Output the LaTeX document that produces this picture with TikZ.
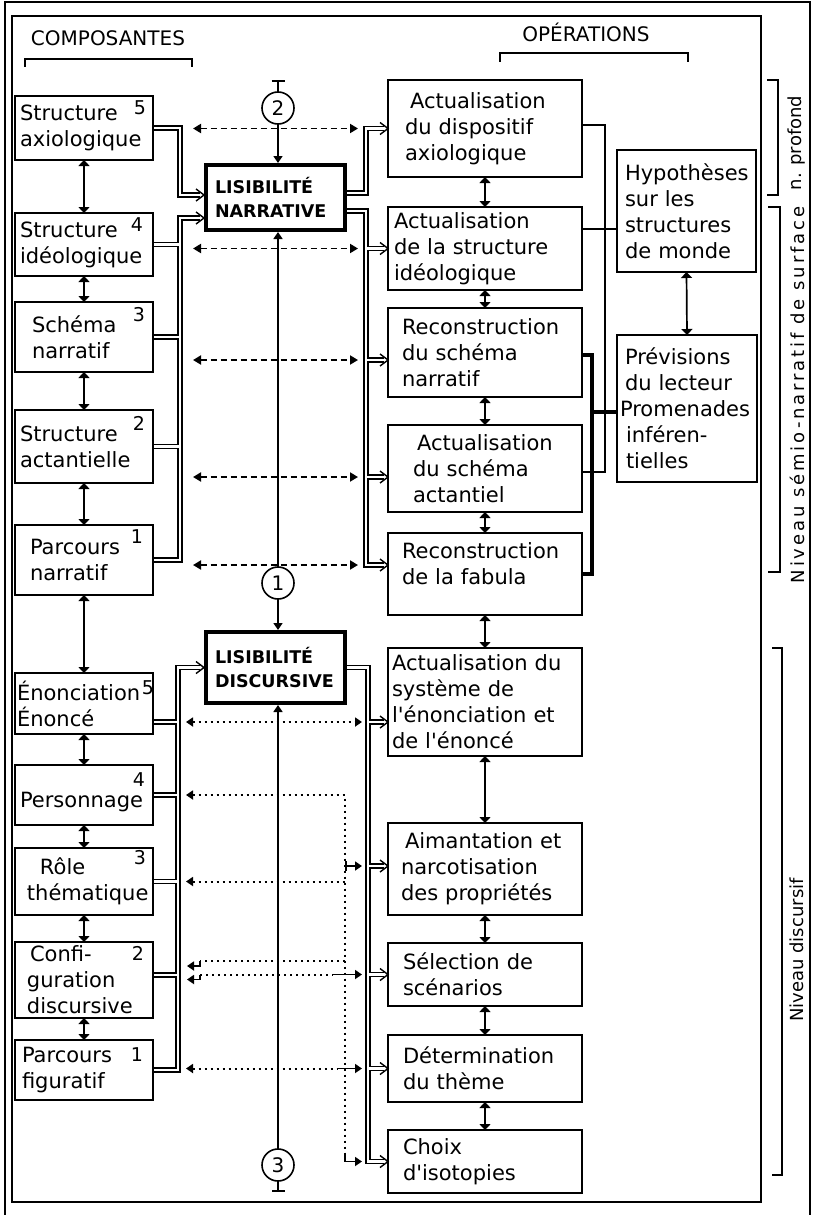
\documentclass[tikz,border=0pt]{standalone}
\usepackage{fontspec}
\setmainfont{DejaVu Sans}
\usetikzlibrary{arrows.meta}
\pgfdeclarelayer{back}
\pgfsetlayers{back,main}
\hyphenpenalty=10000
\exhyphenpenalty=10000
\newcommand\mybox[8]{%
  \pgfmathsetmacro\mbw{#4-#2-2*#6}%
  \pgfmathsetmacro\mbh{#5-#3}%
  \node[#7, anchor=north west, inner xsep=#6pt, inner ysep=0pt, text width=\mbw pt, minimum height=\mbh pt] (#1) at (#2,#3) {#8};}
\newcommand\chev[1]{\draw[chevl] ([xshift=-8pt,yshift=6pt]#1) -- (#1) -- ([xshift=-8pt,yshift=-6pt]#1);}
\begin{document}
\begin{tikzpicture}[x=1pt,y=-1pt,
  >={Triangle[length=7pt,width=9pt]},
  box/.style={draw, line width=1.7pt, outer sep=0pt, align=left, font=\fontsize{21}{26}\selectfont},
  lbox/.style={draw, line width=4pt, outer sep=0pt, align=left, font=\bfseries\fontsize{17.5}{24}\selectfont},
  num/.style={inner sep=0pt, font=\fontsize{19}{19}\selectfont},
  circ/.style={draw, circle, line width=1.6pt, minimum size=32pt, inner sep=0pt, outer sep=0pt, font=\fontsize{20}{20}\selectfont},
  vv/.style={line width=1.7pt, {Triangle[length=6pt,width=11pt]}-{Triangle[length=6pt,width=11pt]}},
  thinl/.style={line width=1.4pt},
  heavy/.style={line width=4pt, line join=miter},
  dashar/.style={line width=1.8pt, dash pattern=on 6pt off 4pt, {Triangle[length=8pt,width=9pt]}-{Triangle[length=8pt,width=9pt]}},
  dotl/.style={line width=2pt, dash pattern=on 2pt off 4pt},
  solidar/.style={line width=1.7pt},
  dblk/.style={line width=5.4pt, line join=miter},
  dblw/.style={line width=2.4pt, white, line join=miter},
  chevl/.style={line width=1.4pt, line join=miter},
  hdr/.style={inner sep=0pt, font=\fontsize{20}{20}\selectfont},
  side/.style={inner sep=0pt, rotate=90, font=\fontsize{18}{18}\selectfont},
  frame/.style={line width=1.6pt}
]
\useasboundingbox (0,0) rectangle (813,1215);
\begin{pgfonlayer}{back}
\fill[white] (0,0) rectangle (813,1215);
\end{pgfonlayer}

% frames
\draw[line width=2pt] (5,1215) -- (5,2) -- (810,2) -- (810,1215);
\draw[frame] (12,16) rectangle (761,1202);

% headers
\node[hdr] (hc) at (108,38) {COMPOSANTES};
\draw[frame] (25,67) -- (25,59) -- (192,59) -- (192,67);
\node[hdr] (ho) at (586,32) {OPÉRATIONS};
\draw[frame] (500,62) -- (500,53) -- (688,53) -- (688,62);

% left boxes
\mybox{b1}{15}{96}{153}{160}{5}{box}{Structure\\axiologique}
\mybox{b2}{15}{213}{153}{276}{5}{box}{Structure\\idéologique}
\mybox{b3}{15}{302}{153}{372}{17}{box}{Schéma\\narratif}
\mybox{b4}{15}{410}{153}{483}{5}{box}{Structure\\actantielle}
\mybox{b5}{15}{525}{153}{595}{15}{box}{Parcours\\narratif}
\mybox{b6}{15}{673}{153}{734}{2}{box}{Énonciation\\Énoncé}
\mybox{b7}{15}{765}{153}{825}{5}{box}{\rule{0pt}{29pt}Personnage}
\mybox{b8}{15}{848}{153}{915}{12}{box}{\hspace*{13pt}Rôle\\thématique}
\mybox{b9}{15}{942}{153}{1018}{12}{box}{\hspace*{3pt}Confi-\\guration\\discursive}
\mybox{b10}{15}{1040}{153}{1100}{7}{box}{Parcours\\figuratif}

% numbers
\node[num] (n1) at (140,108) {5};
\node[num] (n2) at (137,225) {4};
\node[num] (n3) at (139,315) {3};
\node[num] (n4) at (139,423) {2};
\node[num] (n5) at (137,537) {1};
\node[num] (n6) at (148,688) {5};
\node[num] (n7) at (139,780) {4};
\node[num] (n8) at (140,858) {3};
\node[num] (n9) at (138,953) {2};
\node[num] (n10) at (137,1055) {1};

% central boxes
\mybox{LN}{206}{165}{345}{230}{9}{lbox}{LISIBILITÉ\\NARRATIVE}
\mybox{LD}{206}{632}{345}{703}{9}{lbox}{LISIBILITÉ\\DISCURSIVE}

% right boxes
\mybox{A1}{388}{80}{582}{177}{17}{box}{\hspace*{5pt}Actualisation\\du dispositif\\axiologique}
\mybox{A2}{388}{207}{582}{290}{6}{box}{Actualisation\\de la structure\\idéologique}
\mybox{A3}{388}{308}{582}{397}{14}{box}{Reconstruction\\du schéma\\narratif}
\mybox{A4}{388}{425}{582}{512}{25}{box}{\hspace*{4pt}Actualisation\\du schéma\\actantiel}
\mybox{A5}{388}{533}{582}{615}{14}{box}{Reconstruction\\de la fabula\\[-6pt]\mbox{}}
\mybox{H}{617}{150}{756}{272}{8}{box}{Hypothèses\\sur les\\structures\\de monde}
\mybox{P}{617}{335}{757}{482}{3}{box}{\hspace*{5pt}Prévisions\\\hspace*{5pt}du lecteur\\Promenades\\\hspace*{6pt}inféren-\\\hspace*{6pt}tielles}
\mybox{B1}{388}{648}{582}{756}{4}{box}{Actualisation du\\système de\\l\textquotesingle énonciation et\\de l\textquotesingle énoncé}
\mybox{B2}{388}{823}{582}{915}{13}{box}{\hspace*{4pt}Aimantation et\\narcotisation\\des propriétés}
\mybox{B3}{388}{943}{582}{1006}{15}{box}{Sélection de\\scénarios}
\mybox{B4}{388}{1035}{582}{1102}{15}{box}{Détermination\\du thème}
\mybox{B5}{388}{1130}{582}{1193}{15}{box}{Choix\\d\textquotesingle isotopies}

% circles
\node[circ] (c2) at (278,108) {2};
\node[circ] (c1) at (278,583) {1};
\node[circ] (c3) at (278,1165) {3};
\coordinate (tb2) at (278,80);
\coordinate (tb3) at (278,1192);

% helper coordinates
\coordinate (nlx) at (180,0);
\coordinate (nrx) at (366,0);
\coordinate (dlx) at (178,0);
\coordinate (drx) at (368,0);
\coordinate (tLN1) at ([xshift=-2pt,yshift=2.5pt]LN.west);
\coordinate (tLN2) at ([xshift=-2pt,yshift=-20.5pt]LN.west);
\coordinate (oLN1) at ([xshift=2pt,yshift=4.5pt]LN.east);
\coordinate (oLN2) at ([xshift=2pt,yshift=-13.5pt]LN.east);
\coordinate (tA1) at (A1.west);
\coordinate (tA2) at (A2.west);
\coordinate (tA3) at ([yshift=-7.5pt]A3.west);
\coordinate (tA4) at ([yshift=-8.5pt]A4.west);
\coordinate (tA5) at ([yshift=9pt]A5.west);
\coordinate (tLD) at ([xshift=-2pt]LD.west);
\coordinate (oLD) at ([xshift=2pt]LD.east);
\coordinate (tB1) at ([yshift=-20pt]B1.west);
\coordinate (tB2) at ([yshift=3pt]B2.west);
\coordinate (tB3) at (B3.west);
\coordinate (tB4) at (B4.west);
\coordinate (tB5) at (B5.west);
\coordinate (cb6) at ([yshift=-18.5pt]b6.east);
\coordinate (cb9) at ([yshift=5pt]b9.east);

% double-line connectors
\def\dblpath{
  (b1.east) -| (nlx |- tLN1) -- ([xshift=-4pt]tLN1)
  (b2.east) -- (b2.east -| nlx)
  (b3.east) -- (b3.east -| nlx)
  (b4.east) -- (b4.east -| nlx)
  (b5.east) -| (nlx |- tLN2) -- ([xshift=-4pt]tLN2)
  (oLN1) -| (nrx |- tA1) -- ([xshift=-4pt]tA1)
  (oLN2) -| (nrx |- tA5) -- ([xshift=-4pt]tA5)
  (nrx |- tA2) -- ([xshift=-4pt]tA2)
  (nrx |- tA3) -- ([xshift=-4pt]tA3)
  (nrx |- tA4) -- ([xshift=-4pt]tA4)
  (cb6) -- (cb6 -| dlx)
  (b7.east) -- (b7.east -| dlx)
  (b8.east) -- (b8.east -| dlx)
  (cb9) -- (cb9 -| dlx)
  (b10.east) -| (dlx |- tLD) -- ([xshift=-4pt]tLD)
  (oLD) -| (drx |- tB5) -- ([xshift=-4pt]tB5)
  (drx |- tB1) -- ([xshift=-4pt]tB1)
  (drx |- tB2) -- ([xshift=-4pt]tB2)
  (drx |- tB3) -- ([xshift=-4pt]tB3)
  (drx |- tB4) -- ([xshift=-4pt]tB4)
}
\begin{pgfonlayer}{back}
\draw[dblk] \dblpath;
\draw[dblw] \dblpath;
\end{pgfonlayer}
\chev{tLN1}\chev{tLN2}\chev{tA1}\chev{tA2}\chev{tA3}\chev{tA4}\chev{tA5}
\chev{tLD}\chev{tB1}\chev{tB2}\chev{tB3}\chev{tB4}\chev{tB5}

% central axis
\draw[solidar, {Bar[width=13pt]}-] (tb2) -- (c2.north);
\draw[solidar, ->, shorten >=2pt] (c2.south) -- (c2.south |- LN.north);
\draw[solidar, ->, shorten >=2pt] (c1.north) -- (c1.north |- LN.south);
\draw[solidar, ->, shorten >=2pt] (c1.south) -- (c1.south |- LD.north);
\draw[solidar, ->, shorten >=2pt] (c3.north) -- (c3.north |- LD.south);
\draw[solidar, -{Bar[width=13pt]}] (c3.south) -- (tb3);

% vertical arrows between boxes
\draw[vv] (b1.south) -- (b2.north);
\draw[vv] (b2.south) -- (b3.north);
\draw[vv] (b3.south) -- (b4.north);
\draw[vv] (b4.south) -- (b5.north);
\draw[vv] (b5.south) -- (b6.north);
\draw[vv] (b6.south) -- (b7.north);
\draw[vv] (b7.south) -- (b8.north);
\draw[vv] (b8.south) -- (b9.north);
\draw[vv] (b9.south) -- (b10.north);
\draw[vv] (A1.south) -- (A2.north);
\draw[vv] (A2.south) -- (A3.north);
\draw[vv] (A3.south) -- (A4.north);
\draw[vv] (A4.south) -- (A5.north);
\draw[vv] (A5.south) -- (B1.north);
\draw[vv] (B1.south) -- (B2.north);
\draw[vv] (B2.south) -- (B3.north);
\draw[vv] (B3.south) -- (B4.north);
\draw[vv] (B4.south) -- (B5.north);
\draw[vv] (H.south) -- (P.north);

% thin and heavy links on the right
\coordinate (kx) at (605,0);
\coordinate (hx2) at (592,0);
\coordinate (a2r) at ([yshift=19.5pt]A2.east);
\coordinate (a3r) at ([yshift=-2.5pt]A3.east);
\coordinate (pvl) at ([yshift=-3.5pt]P.west);
\draw[thinl] ([yshift=3.5pt]A1.east) -- ([yshift=3.5pt]A1.east -| kx) -- ([yshift=-3.5pt]A4.east -| kx) -- ([yshift=-3.5pt]A4.east);
\draw[thinl] (a2r) -- (a2r -| H.west);
\draw[heavy] (a3r) -- (a3r -| hx2) -- (A5.east -| hx2) -- (A5.east);
\draw[heavy] (pvl -| hx2) -- (pvl);

% dashed arrows (narrative level)
\coordinate (dxl) at (193,0);
\coordinate (dxr) at (358,0);
\foreach \t in {tA1,tA2,tA3,tA4,tA5}{\draw[dashar] (\t -| dxl) -- (\t -| dxr);}

% dotted arrows (discursive level)
\coordinate (dx1) at (186,0);
\coordinate (dx2) at (362,0);
\coordinate (vx) at (345,0);
\coordinate (hx) at (200,0);
\coordinate (sx) at (333,0);
\coordinate (sx2) at (338,0);
\coordinate (vbot) at (345,1155);
\coordinate (cfu) at (345,961);
\draw[dotl, <->] (tB1 -| dx1) -- (tB1 -| dx2);
\draw[dotl, <-] (b7.east -| dx1) -- (b7.east -| vx) -- (vbot);
\draw[solidar, ->] (vbot) -- (tB5 -| vx) -- (tB5 -| dx2);
\draw[dotl, <-] (b8.east -| dx1) -- (b8.east -| vx);
\draw[solidar, {Bar[width=10pt]}->] (tB2 -| vx) -- (tB2 -| dx2);
\draw[dotl] (cfu) -- (cfu -| hx);
\draw[solidar, ->] (cfu -| hx) -- ++(0,5) -- ++(-13,0);
\draw[dotl] (tB3 -| hx) -- (tB3 -| sx);
\draw[solidar, ->] (tB3 -| sx) -- (tB3 -| dx2);
\draw[solidar, ->] (tB3 -| hx) -- ++(0,5) -- ++(-13,0);
\draw[dotl, <-] (tB4 -| dx1) -- (tB4 -| sx2);
\draw[solidar, ->] (tB4 -| sx2) -- (tB4 -| dx2);

% side brackets and labels
\draw[frame] (767,80) -- (778,80) -- (778,195) -- (767,195);
\draw[frame] (768,207) -- (780,207) -- (780,572) -- (768,572);
\draw[frame] (772,648) -- (782,648) -- (782,1175) -- (772,1175);
\node[side] (s1) at (797,143) {n. profond};
\node[side] (s2) at (797,395) {\addfontfeatures{LetterSpace=16}Niveau sémio-narratif de surface};
\node[side] (s3) at (797,950) {Niveau discursif};
\end{tikzpicture}
\end{document}
